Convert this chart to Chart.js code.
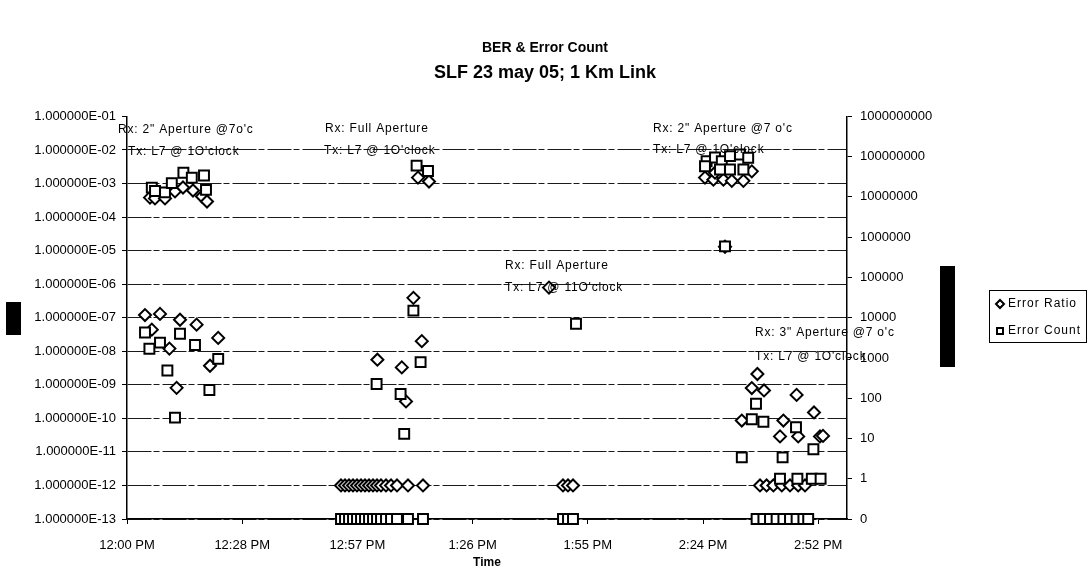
<!DOCTYPE html>
<html><head><meta charset="utf-8">
<script src="https://cdn.jsdelivr.net/npm/chart.js@4"></script>
<style>html,body{margin:0;padding:0;background:#fff;}</style>
</head><body>
<canvas id="c" width="1090" height="581"></canvas>
<script>
// ---- data (time = minutes after 12:00 PM) ----
const ratioTimes = [
  5.75, 7.0, 9.5, 12.0, 14.0, 16.5, 18.75, 20.0,
  4.5, 8.25, 13.25, 17.4, 6.2, 10.6, 22.8, 20.75, 12.4,
  72.75, 75.5, 71.6, 73.7, 62.6, 68.7, 69.75,
  53.5, 54.5, 55.5, 56.5, 57.5, 58.5, 59.5, 60.5, 61.5, 62.5, 63.5, 64.75, 66.0, 67.5, 70.25, 74.0,
  105.5, 109.0, 110.25, 111.5,
  144.5, 146.6, 147.0, 149.1, 151.2, 154.1, 156.2, 149.5,
  157.6, 156.2, 159.25, 167.4, 171.75, 153.7, 164.1, 163.25, 167.8, 173.25, 174.0,
  158.25, 159.9, 161.6, 163.7, 165.75, 167.8, 169.5
];
const ratioValues = [
  3.8e-4, 3.6e-4, 3.6e-4, 5.8e-4, 7.6e-4, 6.2e-4, 4.1e-4, 2.9e-4,
  1.2e-7, 1.3e-7, 8.7e-8, 6.2e-8, 4.4e-8, 1.2e-8, 2.5e-8, 3.7e-9, 8.1e-10,
  1.5e-3, 1.15e-3, 3.9e-7, 2.0e-8, 5.6e-9, 3.3e-9, 3.2e-10,
  1e-12, 1e-12, 1e-12, 1e-12, 1e-12, 1e-12, 1e-12, 1e-12, 1e-12, 1e-12, 1e-12, 1e-12, 1e-12, 1e-12, 1e-12, 1e-12,
  7.9e-7, 1e-12, 1e-12, 1e-12,
  1.5e-3, 1.3e-3, 2.1e-3, 1.3e-3, 1.2e-3, 1.2e-3, 2.3e-3, 1.3e-5,
  2.1e-9, 8e-10, 6.8e-10, 5e-10, 1.5e-10, 8.6e-11, 8.6e-11, 2.9e-11, 2.9e-11, 2.9e-11, 3e-11,
  1e-12, 1e-12, 1e-12, 1e-12, 1e-12, 1e-12, 1e-12
];
const countTimes = [
  6.2, 7.0, 9.5, 11.2, 14.1, 16.2, 19.25, 19.75,
  4.5, 5.6, 8.25, 13.25, 17.0, 22.8, 10.1, 20.6, 12.0,
  72.4, 75.25, 71.6, 73.4, 62.4, 68.4, 69.3,
  53.5, 54.5, 55.5, 56.5, 57.5, 58.5, 59.5, 60.5, 61.5, 62.5, 63.5, 64.75, 66.0, 67.5, 70.25, 74.0,
  112.25, 109.0, 110.25, 111.5,
  144.9, 147.0, 148.7, 150.75, 153.25, 155.3, 144.5, 148.25, 150.75, 154.1, 149.5,
  157.25, 156.2, 159.1, 167.25, 171.6, 153.7, 163.9, 163.25, 167.6, 171.2, 173.4,
  157.4, 159.1, 160.75, 162.4, 164.1, 165.75, 167.4, 169.1, 170.3
];
const countValues = [
  1.7e7, 1.4e7, 1.3e7, 2.2e7, 4.0e7, 3.0e7, 3.4e7, 1.5e7,
  4300, 1700, 2400, 4000, 2100, 950, 490, 160, 33,
  6.0e7, 4.4e7, 15000, 790, 225, 127, 13,
  0, 0, 0, 0, 0, 0, 0, 0, 0, 0, 0, 0, 0, 0, 0, 0,
  7100, 0, 0, 0,
  7.7e7, 9.5e7, 7.7e7, 1.03e8, 1.13e8, 9.4e7, 5.8e7, 4.8e7, 4.8e7, 4.8e7, 5.9e5,
  73, 30, 26, 19, 5.4, 3.4, 3.4, 1, 1, 1, 1,
  0, 0, 0, 0, 0, 0, 0, 0, 0
];
const timeTickValues = [0, 28.8, 57.6, 86.4, 115.2, 144, 172.8];
const timeTickLabels = ['12:00 PM', '12:28 PM', '12:57 PM', '1:26 PM', '1:55 PM', '2:24 PM', '2:52 PM'];
const ratioTickValues = [1e-1, 1e-2, 1e-3, 1e-4, 1e-5, 1e-6, 1e-7, 1e-8, 1e-9, 1e-10, 1e-11, 1e-12, 1e-13];
const ratioTickLabels = ['1.000000E-01', '1.000000E-02', '1.000000E-03', '1.000000E-04', '1.000000E-05', '1.000000E-06',
  '1.000000E-07', '1.000000E-08', '1.000000E-09', '1.000000E-10', '1.000000E-11', '1.000000E-12', '1.000000E-13'];
const countTickValues = [1e9, 1e8, 1e7, 1e6, 1e5, 1e4, 1e3, 100, 10, 1, 0.1];
const countTickLabels = ['1000000000', '100000000', '10000000', '1000000', '100000', '10000', '1000', '100', '10', '1', '0'];
const noteTexts = ['Rx: 2" Aperture @7o\'c', 'Tx: L7 @ 1O\'clock', 'Rx: Full Aperture', 'Tx: L7 @ 1O\'clock',
  'Rx: Full Aperture', 'Tx: L7 @ 11O\'clock', 'Rx: 2" Aperture @7 o\'c', 'Tx: L7 @ 1O\'clock',
  'Rx: 3" Aperture @7 o\'c', 'Tx: L7 @ 1O\'clock'];
const noteTimes = [-2.25, 0.25, 49.5, 49.25, 94.5, 94.5, 131.5, 131.5, 157, 157];
const noteRatioExp = [-1.39, -2.05, -1.36, -2.02, -5.45, -6.10, -1.36, -1.99, -7.45, -8.16];

const FONT = "'Liberation Sans', Arial, sans-serif";
Chart.defaults.font.family = FONT;
Chart.defaults.color = '#000';

const extras = {
  id: 'extras',
  afterDatasetsDraw(chart) {
    const {ctx, scales} = chart;
    ctx.save();
    ctx.fillStyle = '#000';
    ctx.font = '12px ' + FONT;
    ctx.textBaseline = 'middle';
    ctx.textAlign = 'left';
    try { ctx.letterSpacing = '0.8px'; } catch (e) {}
    noteTexts.forEach((t, i) => {
      const x = scales.x.getPixelForValue(noteTimes[i]);
      const y = scales.y.getPixelForValue(Math.pow(10, noteRatioExp[i]));
      ctx.fillText(t, x, y);
    });
    ctx.restore();
  },
  afterDraw(chart) {
    const ctx = chart.ctx;
    ctx.save();
    ctx.fillStyle = '#000';
    ctx.fillRect(6, 302, 15, 33);
    ctx.fillRect(940, 266, 15, 101);
    ctx.strokeStyle = '#000';
    ctx.lineWidth = 1;
    ctx.strokeRect(989.5, 290.5, 97, 52);
    ctx.font = '12px ' + FONT;
    try { ctx.letterSpacing = '1px'; } catch (e) {}
    ctx.textBaseline = 'middle';
    const order = [1, 0];
    order.forEach((di, k) => {
      const ds = chart.data.datasets[di];
      const y = 304 + k * 27;
      const x = 1000;
      ctx.lineWidth = 2;
      ctx.fillStyle = '#fff';
      ctx.beginPath();
      if (ds.pointStyle === 'rectRot') {
        ctx.moveTo(x - 4, y); ctx.lineTo(x, y - 4); ctx.lineTo(x + 4, y); ctx.lineTo(x, y + 4); ctx.closePath();
      } else {
        ctx.rect(x - 3, y - 3, 6, 6);
      }
      ctx.fill(); ctx.stroke();
      ctx.fillStyle = '#000';
      ctx.fillText(ds.label, 1008, y);
    });
    ctx.restore();
  }
};

const ratioPoints = ratioTimes.map((t, i) => ({x: t, y: ratioValues[i]}));
const countPoints = countTimes.map((t, i) => ({x: t, y: countValues[i] > 0 ? countValues[i] : 0.1}));

new Chart(document.getElementById('c'), {
  type: 'scatter',
  data: {
    datasets: [
      { label: 'Error Count', data: countPoints, yAxisID: 'y2', pointStyle: 'rect', pointRadius: 7,
        pointBorderWidth: 2, borderColor: '#000', backgroundColor: '#fff', pointBackgroundColor: '#fff',
        pointBorderColor: '#000', order: 0, clip: false },
      { label: 'Error Ratio', data: ratioPoints, yAxisID: 'y', pointStyle: 'rectRot', pointRadius: 6,
        pointBorderWidth: 2, borderColor: '#000', backgroundColor: '#fff', pointBackgroundColor: '#fff',
        pointBorderColor: '#000', order: 1, clip: false }
    ]
  },
  options: {
    responsive: false,
    animation: false,
    devicePixelRatio: 1,
    layout: { padding: 0 },
    plugins: {
      legend: { display: false },
      tooltip: { enabled: false },
      title: { display: true, text: 'BER & Error Count', color: '#000',
        font: { size: 14, weight: 'bold' }, padding: { top: 40, bottom: 3 } },
      subtitle: { display: true, text: 'SLF 23 may 05; 1 Km Link', color: '#000',
        font: { size: 18, weight: 'bold' }, padding: { top: 2, bottom: 33 } }
    },
    scales: {
      x: {
        type: 'linear', position: 'bottom', min: 0, max: 180,
        afterBuildTicks: s => { s.ticks = timeTickValues.map(v => ({value: v})); },
        afterFit: s => { s.height = 62; },
        ticks: { autoSkip: false, maxRotation: 0, padding: 14, font: { size: 13 }, color: '#000',
          callback: (v, i) => timeTickLabels[i] },
        grid: { drawOnChartArea: false, drawTicks: true, tickLength: 5, color: '#000', tickColor: '#000' },
        border: { color: '#000', width: 1.5 },
        title: { display: true, text: 'Time', color: '#000', font: { size: 12, weight: 'bold' },
          padding: { top: 0, bottom: 11 } }
      },
      y: {
        type: 'logarithmic', position: 'left', min: 1e-13, max: 1e-1,
        afterBuildTicks: s => { s.ticks = ratioTickValues.map(v => ({value: v})); },
        afterFit: s => { s.width = 127; },
        ticks: { autoSkip: false, padding: 6, font: { size: 13 }, color: '#000',
          callback: (v, i) => ratioTickLabels[i] },
        grid: { drawTicks: true, tickLength: 5, lineWidth: 1, tickColor: '#000', tickBorderDash: [],
          color: c => (c.tick && c.tick.value > 0.05) ? 'rgba(0,0,0,0)' : '#1a1a1a' },
        border: { color: '#000', width: 1.5, dash: [24, 2, 6, 3] }
      },
      y2: {
        type: 'logarithmic', position: 'right', min: 0.1, max: 1e9,
        afterBuildTicks: s => { s.ticks = countTickValues.map(v => ({value: v})); },
        afterFit: s => { s.width = 243; },
        ticks: { autoSkip: false, padding: 8, font: { size: 13 }, color: '#000',
          callback: (v, i) => countTickLabels[i] },
        grid: { drawOnChartArea: false, drawTicks: true, tickLength: 5, color: '#000', tickColor: '#000' },
        border: { color: '#000', width: 1.5 }
      }
    }
  },
  plugins: [extras]
});
</script>
</body></html>
